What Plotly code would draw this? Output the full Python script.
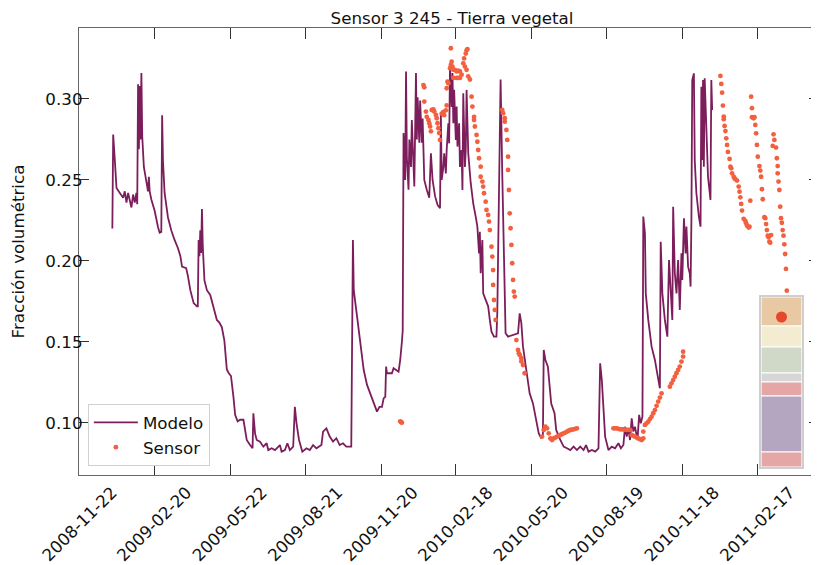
import pandas as pd
import plotly.graph_objects as go

# ---------------- data ----------------
fecha_base = "2008-11-22"  # day 0

# Modelo: (day since fecha_base, volumetric fraction)
modelo = [
    (39, .220), (40, .278), (42, .262), (44, .245), (48, .242), (52, .239), (54, .243), (56, .236),
    (58, .242), (62, .233), (64, .241), (66, .236), (68, .242), (69, .235), (70, .309), (71, .269),
    (72, .308), (73, .275), (74, .316), (75, .277), (77, .258), (80, .248), (82, .243), (83, .252),
    (84, .243), (86, .238), (90, .231), (94, .221), (96, .2175), (98, .218), (99, .290), (100, .262),
    (102, .242), (106, .227), (110, .219), (114, .213), (118, .208), (121, .203), (123, .1965),
    (128, .1955), (130, .191), (133, .182), (137, .174), (141, .172), (142, .172), (143, .213),
    (144, .203), (145, .219), (146, .205), (147, .232), (148, .209), (150, .188), (153, .182),
    (157, .179), (161, .171), (165, .1636), (168, .162), (171, .159), (174, .151), (177, .133),
    (179, .131), (182, .129), (185, .116), (187, .105), (190, .101), (193, .102), (197, .102),
    (201, .0895), (205, .0864), (208, .0844), (209, .106), (211, .0936), (213, .0895), (217, .0884),
    (221, .0854), (225, .0875), (227, .0833), (231, .0844), (235, .0833), (241, .0864), (243, .0823),
    (247, .0833), (250, .0875), (253, .0833), (257, .0854), (259, .110), (261, .0998), (264, .0895),
    (268, .0823), (273, .0844), (277, .0833), (281, .0864), (285, .0844), (291, .0864), (293, .0947),
    (297, .0967), (301, .0916), (305, .0885), (309, .0906), (313, .0864), (317, .0875), (321, .0854),
    (325, .0854), (327, .0854), (329, .213), (330, .182), (334, .1656), (338, .1471), (342, .1327),
    (346, .1235), (350, .1183), (354, .1132), (358, .107), (361, .110), (364, .110), (366, .1152),
    (368, .1162), (369, .1348), (370, .1307), (376, .1307), (378, .1338), (384, .1317), (386, .1389),
    (388, .150), (389, .157), (390, .279), (392, .250), (393, .317), (394, .264), (396, .244),
    (397, .275), (399, .258), (400, .287), (401, .273), (403, .246), (405, .316), (406, .275),
    (407, .301), (409, .273), (410, .299), (412, .273), (413, .288), (415, .250), (418, .244),
    (421, .239), (423, .2665), (425, .250), (428, .240), (431, .2346), (434, .2325), (435, .291),
    (436, .250), (438, .258), (439, .2665), (441, .254), (442, .2685), (444, .285), (445, .2726),
    (446, .320), (448, .295), (449, .316), (450, .285), (451, .3056), (453, .2747), (454, .2953),
    (455, .2706), (457, .285), (458, .258), (460, .2685), (461, .2438), (462, .3035), (464, .258),
    (465, .2685), (466, .3056), (468, .2665), (471, .248), (474, .2356), (477, .2274), (479, .2212),
    (481, .2047), (482, .218), (483, .1924), (485, .213), (486, .180), (489, .176), (492, .172),
    (494, .1636), (496, .1564), (499, .1533), (502, .1533), (503, .1677), (506, .289), (507, .312),
    (509, .254), (511, .1924), (513, .1554), (516, .1533), (522, .1543), (526, .1554), (528, .1554),
    (530, .1677), (532, .1616), (534, .1471), (538, .1327), (542, .1183), (546, .1121), (550, .1019),
    (553, .0936), (556, .0905), (558, .0926), (559, .1451), (561, .1389), (564, .1348), (568, .112),
    (572, .106), (574, .0957), (579, .0895), (583, .0854), (587, .0844), (591, .0833), (595, .0854),
    (599, .0833), (603, .0854), (607, .0833), (610, .0864), (613, .0823), (617, .0833), (621, .0823),
    (625, .0844), (627, .1368), (629, .1265), (631, .110), (633, .0916), (637, .0833), (641, .0854),
    (645, .0844), (649, .0875), (652, .0844), (655, .0864), (657, .0977), (659, .0916), (661, .0967),
    (663, .0895), (665, .1029), (667, .0947), (669, .0977), (672, .0895), (674, .105), (676, .0998),
    (678, .104), (679, .2274), (681, .2171), (682, .180), (685, .1636), (689, .1471), (693, .1389),
    (697, .1286), (699, .1214), (700, .2119), (702, .180), (705, .1636), (708, .1533), (710, .2006),
    (712, .180), (714, .1636), (715, .2335), (717, .1924), (719, .180), (721, .2006), (723, .1698),
    (725, .2047), (726, .1883), (728, .2263), (730, .2047), (731, .2212), (733, .1965), (735, .1924),
    (736, .1842), (737, .2253), (738, .3117), (740, .3158), (741, .2623), (743, .2418), (746, .2274),
    (748, .2212), (749, .3076), (750, .2623), (751, .3117), (752, .2582), (753, .3128), (755, .2829),
    (757, .252), (760, .2377), (761, .3117), (762, .2932),
]

# Sensor: (day since fecha_base, volumetric fraction)
sensor = [
    (386, .101), (387, .1005), (388, .1002),
    (414, .3086), (415, .3072), (415, .2984), (417, .2922), (418, .289), (420, .287), (421, .285),
    (422, .283), (423, .280), (424, .2932), (426, .2936), (427, .2922), (429, .2901), (430, .2881),
    (431, .285), (432, .282), (433, .279), (434, .2747), (436, .291), (438, .292), (439, .290),
    (441, .293), (442, .296), (442, .3066), (443, .3107), (444, .3097), (446, .319), (447, .3313),
    (447, .321), (448, .323), (449, .320), (450, .318), (450, .313), (452, .318), (454, .317),
    (454, .313), (456, .3175), (456, .313), (458, .317), (458, .313), (460, .315), (462, .322),
    (463, .325), (465, .328), (466, .330), (467, .3307), (464, .320), (466, .318), (468, .314),
    (470, .312), (472, .3014), (473, .2953), (475, .289), (475, .287), (476, .283), (478, .2778),
    (479, .2736), (480, .2685), (481, .2634), (483, .2582), (483, .252), (485, .249), (486, .2459),
    (487, .2418), (489, .2366), (490, .2315), (492, .2284), (493, .2243), (494, .2191), (496, .2088),
    (497, .2027), (498, .1944), (498, .1852), (499, .1759), (500, .1698), (501, .1636),
    (509, .2932), (510, .2912), (512, .2881), (512, .286), (514, .2809), (515, .2747), (516, .2644),
    (516, .2562), (517, .2438), (518, .2294), (519, .2202), (520, .2099), (521, .1986), (522, .1883),
    (523, .1811), (524, .178), (526, .1512), (528, .1451), (529, .143), (530, .142), (532, .140),
    (532, .138), (534, .1358), (536, .1307),
    (557, .0916), (559, .0957), (561, .0977), (563, .0967), (565, .0936), (567, .0905), (569, .0895),
    (571, .0905), (573, .0910), (575, .0916), (577, .0921), (579, .0926), (581, .0931), (583, .0936),
    (585, .0941), (587, .0947), (589, .0952), (591, .0957), (593, .0959), (595, .0961), (597, .0964),
    (599, .0967),
    (643, .0967), (645, .0967), (647, .0967), (649, .0964), (651, .0961), (653, .0961), (655, .0961),
    (657, .0959), (659, .0957), (661, .0957), (663, .0957), (665, .0926), (667, .0921), (669, .0916),
    (671, .0910), (673, .0905), (675, .0900), (677, .0895), (679, .0905), (679, .0947), (681, .0988),
    (683, .0998), (685, .1008), (687, .1024), (689, .1039), (691, .1060), (693, .108), (695, .1106),
    (697, .1132), (699, .1157), (701, .1183),
    (711, .1224), (713, .1245), (715, .1265), (717, .1286), (719, .1307), (721, .1327), (723, .1348),
    (725, .1379), (727, .141), (727, .144),
    (772, .3142), (773, .3093), (774, .3039), (775, .2959), (776, .2891), (776, .2875), (777, .2833),
    (778, .2802), (779, .2757), (780, .2716), (781, .2673), (783, .263), (784, .2582), (785, .2572),
    (786, .2541), (788, .252), (789, .251), (790, .2504), (792, .2496), (794, .2459), (795, .2428),
    (796, .2393), (797, .2352), (798, .2311), (800, .226), (802, .2247), (803, .2233), (804, .2218),
    (806, .2206), (807, .2212), (808, .2372),
    (809, .3014), (810, .2943), (810, .2887), (812, .2881), (813, .2887), (814, .284), (815, .2788),
    (816, .2716), (817, .2644), (819, .2586), (820, .2558), (821, .252), (822, .2443), (823, .2381),
    (825, .227), (826, .2264), (827, .2228), (828, .2191), (829, .2156), (830, .2146), (831, .2119),
    (832, .2113), (833, .216),
    (835, .271), (836, .2782), (837, .2747), (839, .270), (840, .2634), (841, .2586), (841, .2541),
    (842, .249), (843, .2438), (844, .2335), (845, .2264), (846, .2236), (847, .2191), (848, .2156),
    (849, .2103), (850, .2043), (851, .1951), (852, .1817),
]

# x tick labels (dates) and y ticks
x_ticks = ["2008-11-22", "2009-02-20", "2009-05-22", "2009-08-21", "2009-11-20",
           "2010-02-18", "2010-05-20", "2010-08-19", "2010-11-18", "2011-02-17"]
y_ticks = [0.10, 0.15, 0.20, 0.25, 0.30]
x_limits_days = [-1.2, 890.8]
y_limits = [0.0679, 0.3438]

# soil profile inset: layer thickness (top to bottom) and colours, sensor depth
capas_espesor = [29, 21, 26, 9, 14, 56, 15]
capas_color = ["#e8c9a3", "#f3ecd0", "#d0d9c7", "#d6d6d6", "#e5a6a6", "#b4a6c1", "#e5a6a6"]
sensor_profundidad = 20

# ---------------- figure ----------------
base = pd.Timestamp(fecha_base)
m_x = [base + pd.Timedelta(days=d) for d, _ in modelo]
m_y = [v for _, v in modelo]
s_x = [base + pd.Timedelta(days=d) for d, _ in sensor]
s_y = [v for _, v in sensor]
x_range = [(base + pd.Timedelta(days=d)).strftime("%Y-%m-%d %H:%M") for d in x_limits_days]

LINE_C = "#7d1e5c"
DOT_C = "#f2603f"
FONT = "DejaVu Sans"
FS = 16.7
TXT = "#111111"

# the page body adds an 8px offset; the figure is sized to fill the remaining window
W, H = 811, 557

fig = go.Figure()
fig.add_trace(go.Scatter(x=m_x, y=m_y, mode="lines", name="Modelo",
                         line=dict(color=LINE_C, width=1.8)))
fig.add_trace(go.Scatter(x=s_x, y=s_y, mode="markers", name="Sensor",
                         marker=dict(color=DOT_C, size=4.8)))
# helper (empty) trace for right-side ticks
fig.add_trace(go.Scatter(x=[], y=[], yaxis="y2", showlegend=False, hoverinfo="skip"))

# inset soil profile
top = 0
for esp, col in zip(capas_espesor, capas_color):
    fig.add_trace(go.Bar(x=[0], y=[esp], base=[top], width=1, xaxis="x3", yaxis="y3",
                         marker=dict(color=col, line=dict(color="white", width=1.2)),
                         showlegend=False, hoverinfo="skip"))
    top += esp
fig.add_trace(go.Scatter(x=[0], y=[sensor_profundidad], xaxis="x3", yaxis="y3", mode="markers",
                         marker=dict(color="#e6462a", size=11), showlegend=False, hoverinfo="skip"))

tick_dates = [pd.Timestamp(t) for t in x_ticks]

fig.update_layout(
    template="none",
    width=W, height=H,
    margin=dict(l=71, r=0, t=20, b=90, pad=0, autoexpand=False),
    paper_bgcolor="white", plot_bgcolor="white",
    font=dict(family=FONT, size=FS, color=TXT),
    title=dict(text="Sensor 3 245 - Tierra vegetal", x=444 / W, xref="container",
               xanchor="center", y=1 - 10 / H, yref="container", yanchor="middle",
               font=dict(family=FONT, size=FS, color=TXT), automargin=False),
    showlegend=True,
    legend=dict(x=0.012, y=0.02, xanchor="left", yanchor="bottom",
                bgcolor="white", bordercolor="#d0d0d0", borderwidth=1,
                font=dict(family=FONT, size=FS, color=TXT), tracegroupgap=0,
                itemwidth=44),
    barmode="overlay",
    xaxis=dict(type="date", range=x_range, tickvals=tick_dates, ticktext=x_ticks,
               tickangle=-45, ticks="inside", ticklen=11, tickwidth=1.4, tickcolor="#333333",
               tickfont=dict(family=FONT, size=FS, color=TXT),
               showline=True, linecolor="#666666", linewidth=1.3, mirror="ticks",
               showgrid=False, zeroline=False, ticklabelshift=32, ticklabelstandoff=0,
               automargin=False),
    yaxis=dict(range=y_limits, tickvals=y_ticks, tickformat=".2f", ticks="inside", ticklen=10,
               tickwidth=1.4, tickcolor="#333333", showline=True, linecolor="#666666",
               tickfont=dict(family=FONT, size=FS, color=TXT), ticklabelstandoff=-8,
               linewidth=1.3, showgrid=False, zeroline=False, automargin=False,
               title=dict(text="Fracción volumétrica", standoff=16,
                          font=dict(family=FONT, size=FS, color=TXT))),
    yaxis2=dict(range=y_limits, tickvals=y_ticks, overlaying="y", side="right", ticks="inside",
                ticklen=10, tickwidth=1.4, tickcolor="#333333", showticklabels=False,
                showline=False, showgrid=False, zeroline=False, automargin=False),
    xaxis3=dict(domain=[(761 - 79) / 740, (802 - 79) / 740], anchor="y3", range=[-0.5, 0.5],
                showticklabels=False, ticks="", showgrid=False, zeroline=False,
                showline=True, mirror=True, linecolor="#cfcfcf", linewidth=1.5, fixedrange=True),
    yaxis3=dict(domain=[(475 - 467) / 447, (475 - 297) / 447], anchor="x3",
                range=[sum(capas_espesor), 0], showticklabels=False, ticks="", showgrid=False,
                zeroline=False, showline=True, mirror=True, linecolor="#cfcfcf", linewidth=1.5,
                fixedrange=True),
)

fig.write_html("out.html")
